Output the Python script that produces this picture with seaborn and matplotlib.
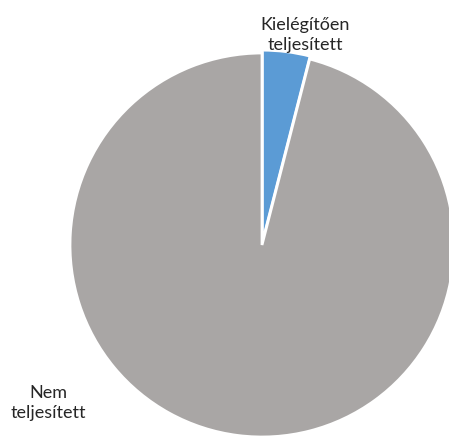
import matplotlib
matplotlib.use("Agg")
import matplotlib.pyplot as plt
import seaborn as sns

categories = ["Kielégítően\nteljesített", "Nem\nteljesített"]
values = [4, 96]
colors = ["#5B9BD5", "#A9A6A5"]

sns.set_theme(style="white")
plt.rcParams['font.family'] = ['Lato', 'DejaVu Sans']

fig = plt.figure(figsize=(4.49, 4.37), dpi=100)
ax = fig.add_axes([0, 0, 1, 1])
ax.pie(values, colors=colors, startangle=90, counterclock=False, radius=1,
       explode=[0.015, 0],
       wedgeprops=dict(edgecolor="white", linewidth=2))
ax.set_aspect('auto')
ax.set_xlim(-262/192, (449-262)/192)
ax.set_ylim((245-437)/192, 245/192)
ax.axis('off')

label_pos = [(0.224, 1.094), (-1.115, -0.823)]
for lab, (x, y) in zip(categories, label_pos):
    ax.text(x, y, lab, ha='center', va='center', fontsize=13, color='#262626',
            linespacing=1.25)

fig.savefig("out.png", dpi=100)
